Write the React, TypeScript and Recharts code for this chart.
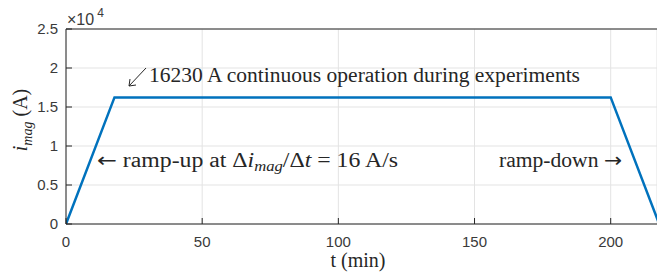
import React from 'react';
import {
  LineChart,
  Line,
  XAxis,
  YAxis,
  CartesianGrid,
  ReferenceLine,
} from 'recharts';

// time (min) and magnet current (A)
const timeMin = [0, 17.8, 200, 217.8];
const currentA = [0, 16230, 16230, 0];

const xTicks = [0, 50, 100, 150, 200];
const yTicks = [0, 5000, 10000, 15000, 20000, 25000];
const xMax = 217;
const yMax = 25000;

const plateauNote = '16230 A continuous operation during experiments';

const data = timeMin.map((t, i) => ({ t, i: currentA[i] }));

const AXIS = '#262626';
const SANS = 'Liberation Sans, Arial, sans-serif';
const TICK = { fill: '#3a3a3a', fontSize: 15, fontFamily: SANS };
const SERIF = 'Liberation Serif, Times New Roman, serif';
const ARROW = 'DejaVu Sans, sans-serif';

const W = 657;
const H = 278;

const Overlay: React.FC = () => (
  <svg
    width={W}
    height={H}
    style={{ position: 'absolute', left: 0, top: 0, pointerEvents: 'none' }}
  >
    {/* x10^4 exponent */}
    <text x={67} y={25} fill="#3a3a3a" fontSize={16} fontFamily={SANS}>
      ×10
      <tspan dx={3} dy={-8} fontSize={12}>4</tspan>
    </text>

    {/* y label */}
    <text
      transform="translate(27,120) rotate(-90)"
      textAnchor="middle"
      fill="#262626"
      fontSize={20}
      fontFamily={SERIF}
    >
      <tspan fontStyle="italic">i</tspan>
      <tspan fontStyle="italic" fontSize={14} dy={5}>mag</tspan>
      <tspan dy={-5}>{' (A)'}</tspan>
    </text>

    {/* x label */}
    <text x={358} y={267} textAnchor="middle" fill="#262626" fontSize={20} fontFamily={SERIF}>
      t (min)
    </text>

    {/* plateau annotation */}
    <g stroke="#262626" strokeWidth={1} fill="none">
      <line x1={146} y1={68} x2={129} y2={86} />
      <polyline points="130,79 129,86 136,85" />
    </g>
    <text x={149} y={82} fill="#262626" fontSize={20} fontFamily={SERIF} textLength={431} lengthAdjust="spacingAndGlyphs">
      {plateauNote}
    </text>

    {/* ramp-up annotation */}
    <text x={97} y={167} fill="#262626" fontSize={20} fontFamily={SERIF} textLength={301} lengthAdjust="spacingAndGlyphs">
      <tspan fontFamily={ARROW} fontSize={20}>{'\u2190'}</tspan>
      {' ramp-up at \u0394'}
      <tspan fontStyle="italic">i</tspan>
      <tspan fontStyle="italic" fontSize={14} dy={4}>mag</tspan>
      <tspan dy={-4}>{'/\u0394'}</tspan>
      <tspan fontStyle="italic">t</tspan>
      {' = 16 A/s'}
    </text>

    {/* ramp-down annotation */}
    <text x={499} y={167} fill="#262626" fontSize={20} fontFamily={SERIF} textLength={123} lengthAdjust="spacingAndGlyphs">
      {'ramp-down '}
      <tspan fontFamily={ARROW} fontSize={20}>{'\u2192'}</tspan>
    </text>
  </svg>
);

const App: React.FC = () => (
  <div style={{ position: 'absolute', left: 0, top: 0, width: W, height: H, background: '#fff' }}>
    <LineChart width={W} height={H} data={data} margin={{ top: 29, right: 0, left: 0, bottom: 0 }}>
      <CartesianGrid stroke="#e3e3e3" strokeWidth={1} />
      <XAxis
        dataKey="t"
        type="number"
        domain={[0, xMax]}
        ticks={xTicks}
        allowDataOverflow
        height={54}
        stroke={AXIS}
        tickSize={-6}
        tickMargin={18}
        tick={TICK}
      />
      <XAxis
        xAxisId="top"
        orientation="top"
        type="number"
        domain={[0, xMax]}
        ticks={xTicks}
        allowDataOverflow
        height={0}
        stroke={AXIS}
        tickSize={-6}
        tickFormatter={() => ''}
      />
      <YAxis
        type="number"
        domain={[0, yMax]}
        ticks={yTicks}
        width={66}
        stroke={AXIS}
        tickSize={-6}
        tickMargin={14}
        tick={TICK}
        tickFormatter={(v: number) => String(v / 10000)}
      />
      <YAxis
        yAxisId="right"
        orientation="right"
        type="number"
        domain={[0, yMax]}
        ticks={yTicks}
        width={0}
        stroke={AXIS}
        tickSize={-6}
        tickFormatter={() => ''}
      />
      <ReferenceLine y={yMax} stroke={AXIS} strokeWidth={1} ifOverflow="extendDomain" />
      <Line
        type="linear"
        dataKey="i"
        stroke="#0072BD"
        strokeWidth={2.5}
        dot={false}
        isAnimationActive={false}
      />
    </LineChart>
    <Overlay />
  </div>
);

export default App;
